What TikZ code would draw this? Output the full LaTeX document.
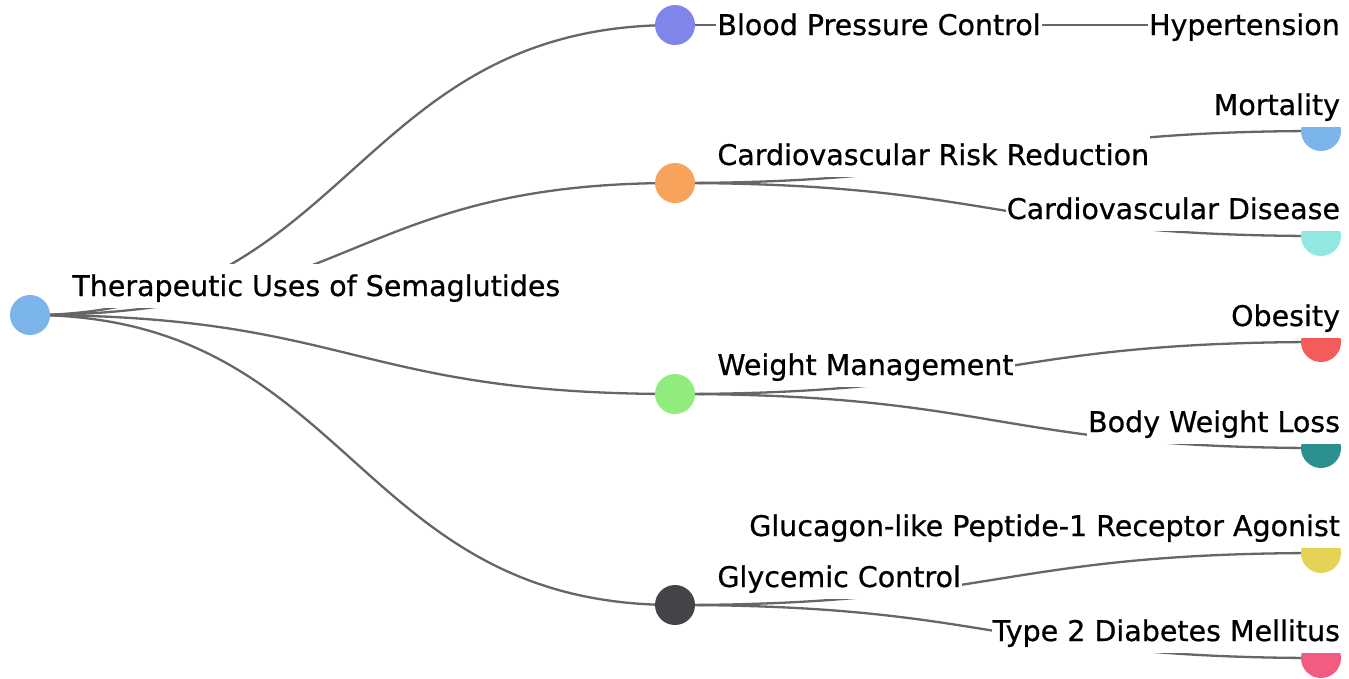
\documentclass[tikz,border=0pt]{standalone}
\usepackage{fontspec}
\setmainfont{DejaVu Sans}
\usepackage{tikz}
\usetikzlibrary{positioning,calc}
\definecolor{hcblue}{HTML}{7CB5EC}
\definecolor{hcpurple}{HTML}{8085E9}
\definecolor{hcorange}{HTML}{F7A35C}
\definecolor{hcgreen}{HTML}{90ED7D}
\definecolor{hcdark}{HTML}{434348}
\definecolor{hcaqua}{HTML}{91E8E1}
\definecolor{hcred}{HTML}{F45B5B}
\definecolor{hcteal}{HTML}{2B908F}
\definecolor{hcyellow}{HTML}{E4D354}
\definecolor{hcpink}{HTML}{F15C80}
\definecolor{linkgrey}{RGB}{102,102,102}
\pgfdeclarelayer{background}
\pgfsetlayers{background,main}

\begin{document}
\begin{tikzpicture}[x=1pt,y=-1pt,node distance=21pt,
        dot/.style={circle,minimum size=40pt,inner sep=0pt},
        lbl/.style={
            fill=white,
            font=\fontsize{28.5}{34}\selectfont\addfontfeatures{FakeBold=0.7},
            text height=28pt,
            text depth=8pt,
            inner xsep=1pt,
            inner ysep=4pt},
        link/.style={draw=linkgrey,line width=2.3pt},
    ]
    \useasboundingbox (0,0) rectangle (1349,678);

    % tree nodes
    \node[dot,fill=hcblue] (root) at (30,315) {};
    \node[dot,fill=hcpurple] (bp) at (675,25) {};
    \node[dot,fill=hcorange] (cvr) at (675,183) {};
    \node[dot,fill=hcgreen] (wm) at (675,394) {};
    \node[dot,fill=hcdark] (gc) at (675,605) {};

    \coordinate (hyp) at (1321,25);
    \node[dot,fill=hcblue] (mort) at (1321,131) {};
    \node[dot,fill=hcaqua] (cvd) at (1321,236) {};
    \node[dot,fill=hcred] (obes) at (1321,342) {};
    \node[dot,fill=hcteal] (bwl) at (1321,448) {};
    \node[dot,fill=hcyellow] (glp) at (1321,553) {};
    \node[dot,fill=hcpink] (tdm) at (1321,658) {};

    % links
    \begin{pgfonlayer}{background}
        \foreach \from/\to in {root/bp,root/cvr,root/wm,root/gc,
                bp/hyp,cvr/mort,cvr/cvd,wm/obes,wm/bwl,gc/glp,gc/tdm}
            \draw[link] (\from.center) .. controls +(322,0) and +(-322,0) .. (\to.center);
    \end{pgfonlayer}

    % labels
    \node[lbl,right=of root,yshift=29pt] (rootlbl) {Therapeutic Uses of Semaglutides};
    \node[lbl,right=of bp] (bplbl) {Blood Pressure Control};
    \node[lbl,right=of cvr,yshift=28pt] (cvrlbl) {Cardiovascular Risk Reduction};
    \node[lbl,right=of wm,yshift=29pt] (wmlbl) {Weight Management};
    \node[lbl,right=of gc,yshift=28pt] (gclbl) {Glycemic Control};

    \node[lbl,anchor=east] (hyplbl) at ([xshift=20pt]hyp) {Hypertension};
    \node[lbl,anchor=east] (mortlbl) at ([yshift=26pt]mort.east) {Mortality};
    \node[lbl,anchor=east] (cvdlbl) at ([yshift=27pt]cvd.east) {Cardiovascular Disease};
    \node[lbl,anchor=east] (obeslbl) at ([yshift=26pt]obes.east) {Obesity};
    \node[lbl,anchor=east] (bwllbl) at ([yshift=26pt]bwl.east) {Body Weight Loss};
    \node[lbl,anchor=east] (glplbl) at ([yshift=27pt]glp.east) {Glucagon-like Peptide-1 Receptor Agonist};
    \node[lbl,anchor=east] (tdmlbl) at ([yshift=27pt]tdm.east) {Type 2 Diabetes Mellitus};
\end{tikzpicture}
\end{document}
